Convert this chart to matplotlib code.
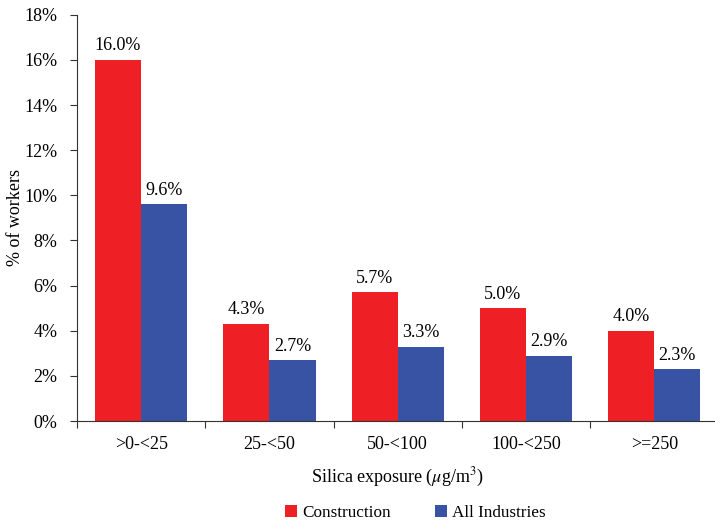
import matplotlib
matplotlib.use('Agg')
import matplotlib.pyplot as plt
import numpy as np

categories = ['>0-<25', '25-<50', '50-<100', '100-<250', '>=250']
construction = [16.0, 4.3, 5.7, 5.0, 4.0]
all_industries = [9.6, 2.7, 3.3, 2.9, 2.3]

red = '#EE1F25'
blue = '#3953A4'

plt.rcParams['font.family'] = ['Liberation Serif', 'DejaVu Serif']
plt.rcParams['mathtext.fontset'] = 'stix'

fig = plt.figure(figsize=(7.15, 5.25), dpi=100)
ax = fig.add_axes([0.1077, 0.198, 0.897, 0.774])

x = np.arange(len(categories))
w = 0.36
b1 = ax.bar(x - w / 2, construction, w, color=red, label='Construction', zorder=2)
b2 = ax.bar(x + w / 2, all_industries, w, color=blue, label='All Industries', zorder=2)

for bars, vals in [(b1, construction), (b2, all_industries)]:
    for rect, v in zip(bars, vals):
        ax.annotate(f'{v:.1f}%', (rect.get_x() + rect.get_width() / 2, rect.get_height()),
                    xytext=(0, 4), textcoords='offset points',
                    ha='center', va='bottom', fontsize=13)

ax.set_xlim(-0.5, len(categories) - 0.5)
ax.set_ylim(0, 18)
ax.set_yticks(range(0, 19, 2))
ax.set_yticklabels([f'{t}%' for t in range(0, 19, 2)], fontsize=13)

# boundary ticks on the axis, labels at category centres
ax.set_xticks(np.arange(-0.5, len(categories), 1.0))
ax.set_xticklabels([])
ax.set_xticks(x, minor=True)
ax.set_xticklabels(categories, minor=True, fontsize=13)
ax.tick_params(axis='x', which='major', length=5, direction='out', color='#333333')
ax.tick_params(axis='x', which='minor', length=0, pad=11)
ax.tick_params(axis='y', length=5, direction='out', pad=9, color='#333333')

for s in ['top', 'right']:
    ax.spines[s].set_visible(False)
ax.spines['left'].set_color('#333333')
ax.spines['bottom'].set_color('#333333')

ax.set_xlabel(r'Silica exposure ($\mu$g/m$^3$)', fontsize=13, labelpad=9)
ax.set_ylabel('% of workers', fontsize=13, labelpad=0)

fig.legend(handles=[b1, b2], loc='center', bbox_to_anchor=(0.581, 0.022),
           ncol=2, frameon=False, fontsize=12.3, handlelength=0.7, handleheight=0.7,
           handletextpad=0.3, columnspacing=2.6)

fig.savefig('out.png', dpi=100)
